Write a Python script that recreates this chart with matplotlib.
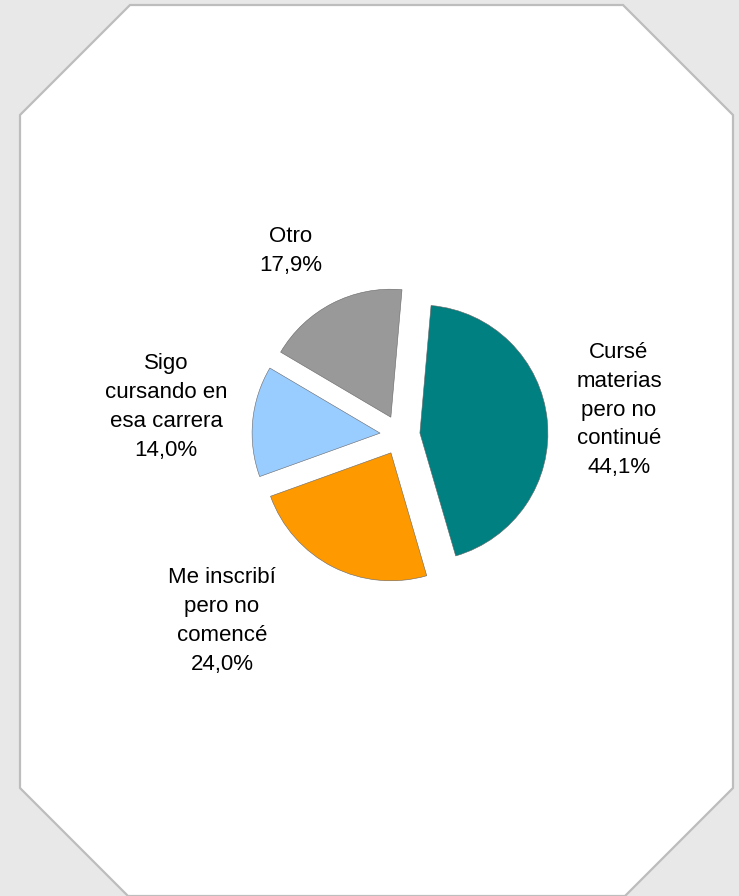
import matplotlib
matplotlib.use("Agg")
import matplotlib.pyplot as plt
from matplotlib.patches import Polygon

# slices, clockwise from the top
labels = ["Cursé\nmaterias\npero no\ncontinué", "Me inscribí\npero no\ncomencé",
          "Sigo\ncursando en\nesa carrera", "Otro"]
shares = [44.1, 24.0, 14.0, 17.9]
colors = ["#008080", "#ff9900", "#99ccff", "#999999"]

W, H = 739, 896
plt.rcParams["font.family"] = ["Liberation Sans", "DejaVu Sans"]

fig = plt.figure(figsize=(W / 100, H / 100), dpi=100)
fig.patch.set_facecolor("#e8e8e8")
ax = fig.add_axes([0, 0, 1, 1])
ax.set_xlim(0, W)
ax.set_ylim(0, H)
ax.axis("off")

# octagon-shaped panel (pixel coords, y flipped)
octo = [(130, 5), (623, 5), (733, 115), (733, 788), (625, 896),
        (128, 896), (20, 788), (20, 115)]
ax.add_patch(Polygon([(x, H - y) for x, y in octo], closed=True,
                     facecolor="white", edgecolor="#bdbdbd", lw=1.6, zorder=0))

# explode is an absolute offset in data units here (pixels)
cx, cy, r = 400, H - 435, 128
wedges, _ = ax.pie(shares, colors=colors, startangle=85, counterclock=False,
                   center=(cx, cy), radius=r, explode=[20] * len(shares),
                   wedgeprops=dict(edgecolor="#666666", lw=0.4))
ax.set_xlim(0, W)
ax.set_ylim(0, H)

# label anchors in pixel coords, same order as the slices
label_pos = [(619, 410), (222, 621), (166, 407), (291, 251)]
for lab, v, (x, y) in zip(labels, shares, label_pos):
    txt = f"{lab}\n{v:.1f}%".replace(".", ",")
    ax.text(x, H - y, txt, ha="center", va="center", multialignment="center",
            fontsize=16, linespacing=1.48, color="black")

fig.savefig("out.png", dpi=100, facecolor=fig.get_facecolor())
